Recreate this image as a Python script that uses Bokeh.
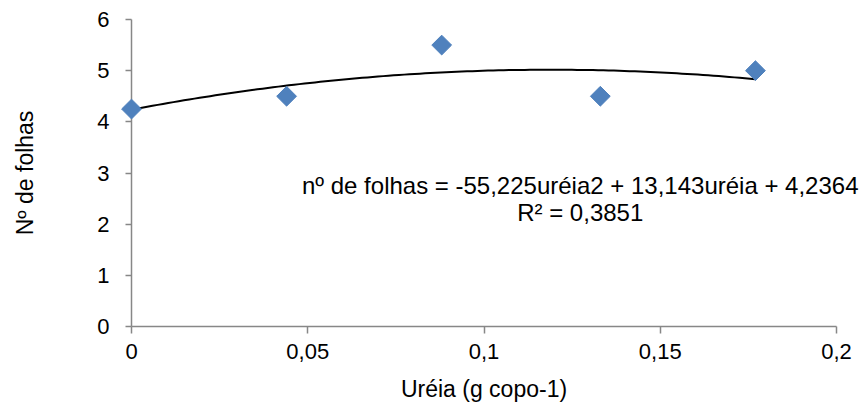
import numpy as np

from bokeh.core.properties import value
from bokeh.embed import file_html
from bokeh.models import ColumnDataSource, CustomJSTickFormatter, FixedTicker, Range1d
from bokeh.plotting import figure
from bokeh.resources import INLINE

# doses of urea (g copo-1) and mean number of leaves
ureia = [0.0, 0.044, 0.088, 0.133, 0.177]
n_folhas = [4.25, 4.5, 5.5, 4.5, 5.0]

x_ticks = [0, 0.05, 0.1, 0.15, 0.2]
y_ticks = [0, 1, 2, 3, 4, 5, 6]

equacao = "nº de folhas = -55,225uréia2 + 13,143uréia + 4,2364"
r2_txt = "R² = 0,3851"

FONT = "Liberation Sans"
AXIS_GRAY = "#878787"

# polynomial trend line (2nd order), fitted from the points
coef = np.polyfit(ureia, n_folhas, 2)
x_fit = np.linspace(min(ureia), max(ureia), 120)
y_fit = np.polyval(coef, x_fit)

p = figure(width=862, height=404, output_backend="svg", toolbar_location=None,
           frame_width=705, frame_height=307,
           x_range=Range1d(0, 0.2), y_range=Range1d(0, 6),
           min_border_left=131, min_border_right=26, min_border_top=19, min_border_bottom=60)
p.outline_line_color = None
p.grid.visible = False
p.background_fill_color = "white"

p.line(x_fit, y_fit, line_color="black", line_width=2)

src = ColumnDataSource(data=dict(x=ureia, y=n_folhas))
p.scatter("x", "y", source=src, marker="square", size=14, angle=np.pi / 4,
          fill_color="#4F81BD", line_color="#4F81BD", level="overlay")

# equation label of the trend line
p.text(x=[0.1273, 0.1273], y=[2.76, 2.23], text=[equacao, r2_txt],
       text_font=value(FONT), text_font_size="24px", text_color="black",
       text_align="center", text_baseline="middle", level="overlay")

p.xaxis.ticker = FixedTicker(ticks=x_ticks)
p.yaxis.ticker = FixedTicker(ticks=y_ticks)
p.xaxis.formatter = CustomJSTickFormatter(code="return tick.toString().replace('.', ',');")

for ax in (p.xaxis, p.yaxis):
    ax.axis_line_color = AXIS_GRAY
    ax.axis_line_width = 1.5
    ax.major_tick_line_color = AXIS_GRAY
    ax.major_tick_line_width = 1.5
    ax.major_tick_in = 0
    ax.minor_tick_line_color = None
    ax.major_label_text_font = FONT
    ax.major_label_text_font_size = "22px"
    ax.major_label_text_color = "black"
    ax.axis_label_text_font = FONT
    ax.axis_label_text_font_size = "23px"
    ax.axis_label_text_font_style = "normal"
    ax.axis_label_text_color = "black"

p.xaxis.major_tick_out = 7
p.yaxis.major_tick_out = 6
p.xaxis.major_label_standoff = 10
p.yaxis.major_label_standoff = 16
p.xaxis.axis_label = "Uréia (g copo-1)"
p.yaxis.axis_label = "Nº de folhas"
p.xaxis.axis_label_standoff = 14
p.yaxis.axis_label_standoff = 56

open("out.html", "w").write(file_html(p, INLINE))
